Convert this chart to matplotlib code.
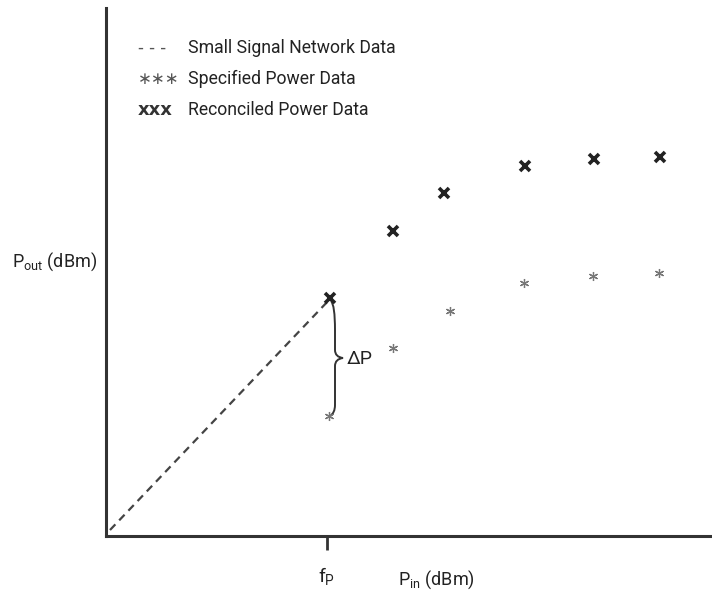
import matplotlib
matplotlib.use("Agg")
import matplotlib.pyplot as plt
from matplotlib.path import Path
from matplotlib.patches import PathPatch

plt.rcParams['font.family'] = ['Roboto', 'DejaVu Sans']
plt.rcParams['mathtext.fontset'] = 'custom'
plt.rcParams['mathtext.rm'] = 'Roboto'
plt.rcParams['mathtext.it'] = 'Roboto'
plt.rcParams['mathtext.bf'] = 'Roboto:bold'

H = 597

# small signal (dashed) line, ends at the compression point f_P
ss_pin = [110, 330]
ss_pout = [H - 530, H - 299]

# specified power data (*)
spec_pin = [329, 393, 450, 524, 593, 659]
spec_pout = [H - 416, H - 348, H - 311, H - 283, H - 276, H - 273]

# reconciled power data (x)
rec_pin = [330, 393, 444, 525, 594, 660]
rec_pout = [H - 298, H - 231, H - 193, H - 166, H - 159, H - 157]

fp_pin = 327

fig = plt.figure(figsize=(7.12, 5.97), dpi=100)
ax = fig.add_axes([106 / 712, 1 - 536 / 597, 1 - 106 / 712, (536 - 8) / 597])
ax.set_xlim(106, 712)
ax.set_ylim(H - 536, H - 8)

for s in ['top', 'right']:
    ax.spines[s].set_visible(False)
for s in ['left', 'bottom']:
    ax.spines[s].set_linewidth(2.2)
    ax.spines[s].set_color('#333333')
ax.set_yticks([])
ax.set_xticks([fp_pin])
ax.set_xticklabels([''])
ax.tick_params(axis='x', length=10, width=2, color='#333333', direction='out')

ax.plot(ss_pin, ss_pout, ls=(0, (3.5, 2.5)), lw=1.6, color='#444444')
ax.plot(spec_pin, spec_pout, ls='none', marker=(6, 2, 0), ms=6.5, mew=0.9, color='#777777')
ax.plot(rec_pin, rec_pout, ls='none', marker='x', ms=7.5, mew=2.6, color='#222222')

# curly brace between reconciled and specified point at f_P
pts = [(331, 301), (335, 305), (335, 330), (335, 350), (335, 357), (343, 358),
       (335, 359), (335, 366), (335, 405), (335, 413), (330, 416)]
codes = [Path.MOVETO, Path.CURVE3, Path.CURVE3, Path.LINETO, Path.CURVE3, Path.CURVE3,
         Path.CURVE3, Path.CURVE3, Path.LINETO, Path.CURVE3, Path.CURVE3]
brace = Path([(x, H - y) for x, y in pts], codes)
ax.add_patch(PathPatch(brace, fill=False, lw=1.4, color='#333333'))
ax.text(347, H - 359, '\u0394P', fontsize=14, va='center', ha='left', color='#222222')

# legend written out by hand
leg_y = [48, 79, 110]
leg_sym = ['- - -', '\u2217\u2217\u2217', 'xxx']
leg_txt = ['Small Signal Network Data', 'Specified Power Data', 'Reconciled Power Data']
for yy, sym, txt in zip(leg_y, leg_sym, leg_txt):
    bold = sym == 'xxx'
    ax.text(138, H - yy, sym, fontsize=13 if bold else 12, va='center', ha='left',
            color='#333333' if bold else '#555555',
            fontweight='bold' if bold else 'normal', family=['DejaVu Sans'])
    ax.text(188, H - yy, txt, fontsize=12.7, va='center', ha='left', color='#222222')

# axis labels
ax.text(12, H - 262, r'$\mathrm{P_{out}}$ (dBm)', fontsize=13, va='center', ha='left',
        color='#222222', clip_on=False)
ax.text(fp_pin, H - 576, r'$\mathrm{f_{P}}$', fontsize=14, va='center', ha='center',
        color='#222222', clip_on=False)
ax.text(398, H - 580, r'$\mathrm{P_{in}}$ (dBm)', fontsize=13, va='center', ha='left',
        color='#222222', clip_on=False)

fig.savefig('out.png', dpi=100)
